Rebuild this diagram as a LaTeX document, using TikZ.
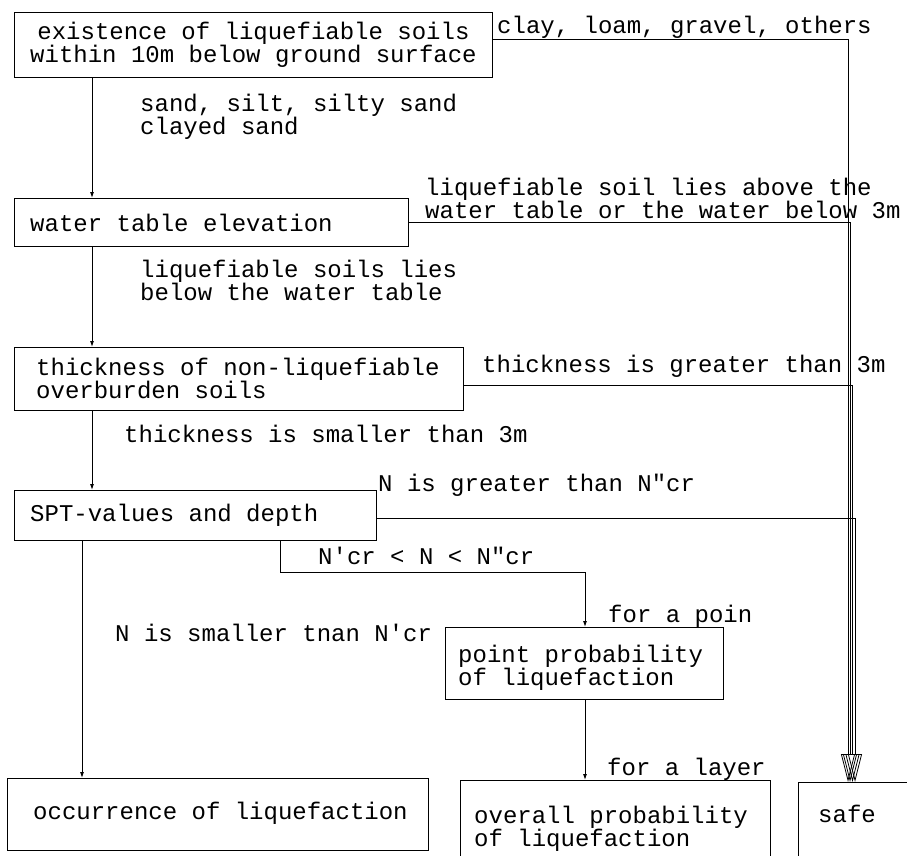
\documentclass[tikz,border=0pt]{standalone}
\usepackage{fontspec}
\newfontfamily\tw{Liberation Mono}
\usetikzlibrary{arrows.meta}
\begin{document}
\begin{tikzpicture}[x=1pt,y=-1pt,
  txt/.style={font=\tw\fontsize{24}{23}\selectfont},
  box/.style={draw, line width=0.9pt, anchor=north west, inner sep=0pt},
  btxt/.style={txt, inner sep=0pt, align=left, anchor=west},
  lbl/.style={txt, inner sep=0pt, align=left, anchor=north west},
  lblb/.style={txt, inner sep=0pt, anchor=base west},
  arr/.style={line width=0.9pt, -{Latex[length=6pt,width=4pt]}},
  tosafe/.style={line width=0.8pt, -{Triangle[open,length=28pt,width=14pt,line width=0.8pt]}}]
\useasboundingbox (0,0) rectangle (907,856);
\clip (0,0) rectangle (907,856);
% boxes
\node[box, minimum width=478, minimum height=65] (b1) at (14,12) {};
\node[box, minimum width=394, minimum height=48] (b2) at (14,198) {};
\node[box, minimum width=449, minimum height=63] (b3) at (14,347) {};
\node[box, minimum width=362, minimum height=50] (b4) at (14,490) {};
\node[box, minimum width=278, minimum height=72] (b5) at (445,627) {};
\node[box, minimum width=421, minimum height=72] (b6) at (7,778) {};
\node[box, minimum width=310, minimum height=100] (b7) at (460,780) {};
\node[box, minimum width=140, minimum height=100] (safe) at (798,782) {};
% box texts
\node[txt, inner sep=0pt, align=center] (t1) at (b1.center) {existence of liquefiable soils\\within 10m below ground surface};
\node[btxt] (t2) at ([xshift=16pt]b2.west) {water table elevation};
\node[btxt] (t3) at ([xshift=22pt]b3.west) {thickness of non-liquefiable\\overburden soils};
\node[btxt] (t4) at ([xshift=16pt]b4.west) {SPT-values and depth};
\node[btxt] (t5) at ([xshift=13pt,yshift=-4pt]b5.west) {point probability\\of liquefaction};
\node[btxt] (t6) at ([xshift=26pt,yshift=1pt]b6.west) {occurrence of liquefaction};
\node[btxt, anchor=north west] (t7) at ([xshift=14pt,yshift=-26pt]b7.north west) {overall probability\\of liquefaction};
\node[btxt] (t8) at ([xshift=20pt,yshift=-32pt]safe.north west) {safe};
% coordinates for connectors
\coordinate (k0) at (92,0);
\coordinate (k3) at (82,0);
\coordinate (k1) at (280,572);
\coordinate (k2) at (585,572);
\coordinate (v1) at (848,39);
\coordinate (v2) at (850,222);
\coordinate (v3) at (852.5,385);
\coordinate (v4) at (855,518);
% main chain
\draw[arr] (b1.south -| k0) -- (b2.north -| k0);
\draw[arr] (b2.south -| k0) -- (b3.north -| k0);
\draw[arr] (b3.south -| k0) -- (b4.north -| k0);
\draw[arr] (b4.south -| k3) -- (b6.north -| k3);
\draw[arr] (b4.south -| k1) -- (k1) -- (k2) -- (b5.north -| k2);
\draw[arr] (b5.south -| k2) -- (b7.north -| k2);
% to safe
\draw[tosafe] (b1.east |- v1) -- (v1) -- (safe.north -| v1);
\draw[tosafe] (b2.east |- v2) -- (v2) -- (safe.north -| v2);
\draw[tosafe] (b3.east |- v3) -- (v3) -- (safe.north -| v3);
\draw[tosafe] (b4.east |- v4) -- (v4) -- (safe.north -| v4);
% labels
\node[lblb] (l1) at (497,34) {clay, loam, gravel, others};
\node[lbl] (l2) at (140,94) {sand, silt, silty sand\\clayed sand};
\node[lbl] (l3) at (425,178) {liquefiable soil lies above the\\water table or the water below 3m};
\node[lbl] (l4) at (140,260) {liquefiable soils lies\\below the water table};
\node[lbl] (l5) at (482,355) {thickness is greater than 3m};
\node[lbl] (l6) at (124,425) {thickness is smaller than 3m};
\node[lbl] (l7) at (378,474) {N is greater than N"cr};
\node[lbl] (l8) at (318,547) {N'cr < N < N"cr};
\node[lblb] (l9) at (608,622) {for a poin};
\node[lbl] (l10) at (115,624) {N is smaller tnan N'cr};
\node[lblb] (l11) at (607,775) {for a layer};
\end{tikzpicture}
\end{document}
